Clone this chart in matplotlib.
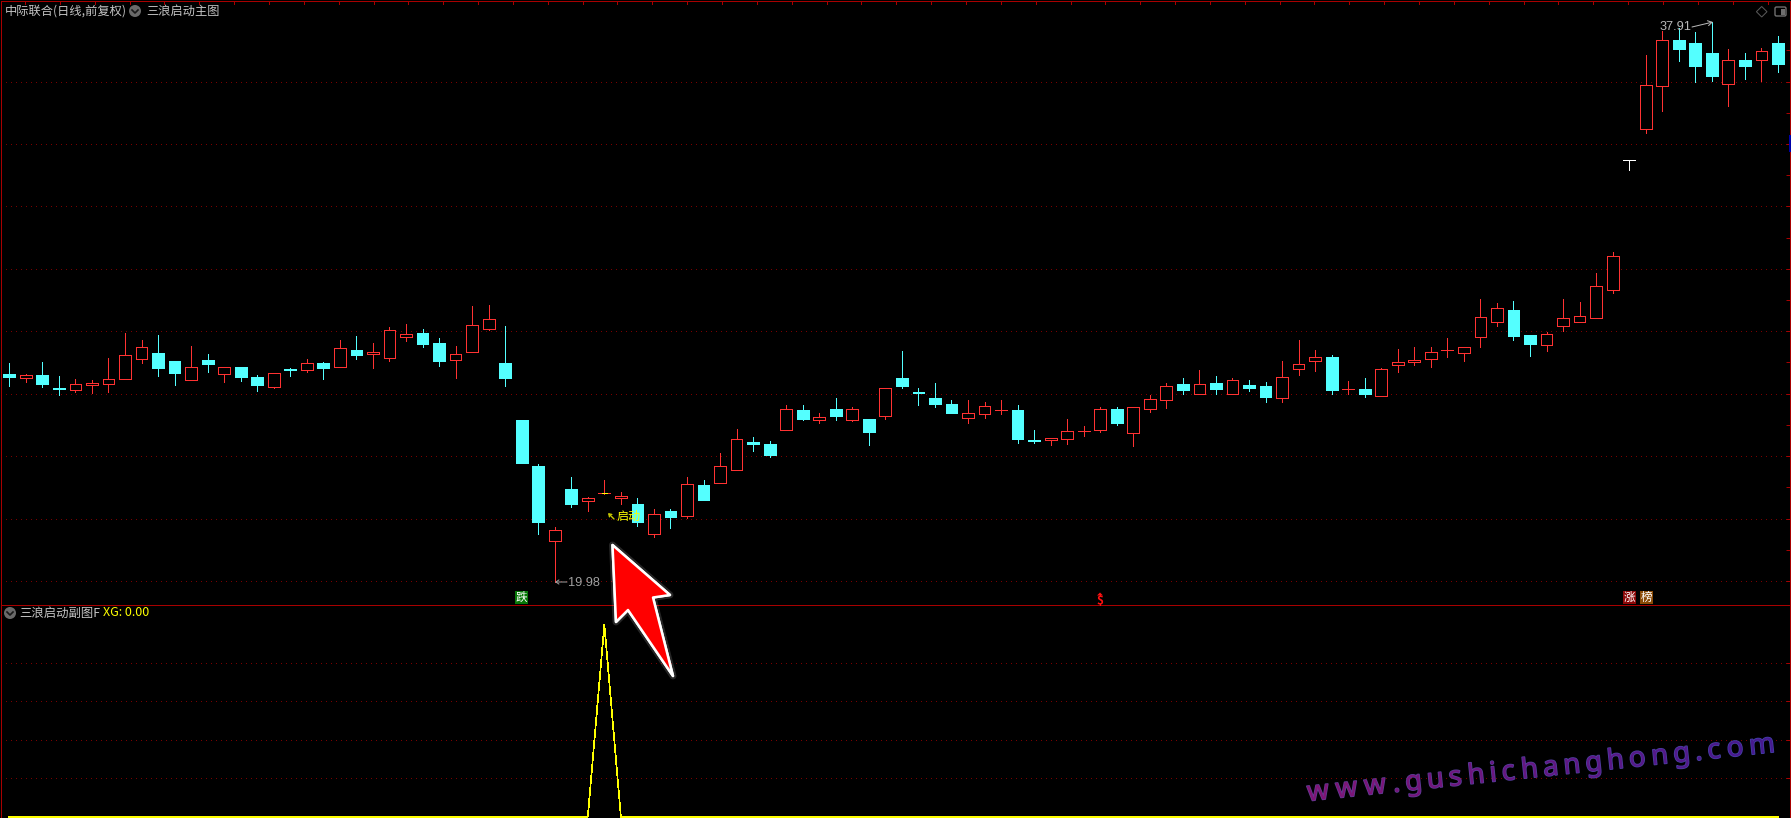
import numpy as np
import matplotlib as mpl
mpl.use("Agg")
import matplotlib.pyplot as plt
import matplotlib.patheffects as pe
from matplotlib.font_manager import FontProperties
from matplotlib.patches import Circle, FancyBboxPatch, Polygon, Rectangle
from matplotlib.textpath import TextPath

plt.rcParams['font.family'] = ['Noto Sans CJK SC', 'DejaVu Sans']

# Daily bars
opens = [26.64, 26.51, 26.60, 26.18, 26.13, 26.28, 26.32, 26.48, 27.12, 27.30,
         27.05, 26.45, 27.08, 26.64, 26.85, 26.53, 26.22, 26.79, 26.77, 26.98,
         26.86, 27.40, 27.28, 27.15, 27.82, 27.94, 27.62, 27.09, 27.34, 28.08,
         26.98, 25.16, 23.68, 21.29, 22.95, 22.57, 22.81, 22.67, 22.47, 21.52,
         22.24, 22.09, 23.08, 23.15, 23.57, 24.45, 24.39, 24.85, 25.48, 25.17,
         25.51, 25.17, 25.19, 25.30, 26.50, 26.04, 25.86, 25.67, 25.23, 25.36,
         25.47, 25.48, 24.51, 24.52, 24.55, 24.79, 24.85, 25.51, 24.75, 25.51,
         25.81, 26.31, 26.00, 26.34, 26.00, 26.28, 26.25, 25.87, 26.80, 27.06,
         27.18, 26.14, 26.15, 25.94, 26.93, 27.03, 27.12, 27.39, 27.31, 27.80,
         28.31, 28.68, 27.88, 27.56, 28.18, 28.31, 28.44, 29.33, 33.49, 34.49,
         35.87, 37.33, 37.23, 36.91, 35.93, 36.69, 36.70, 37.23]
closes = [26.53, 26.59, 26.31, 26.15, 26.30, 26.34, 26.46, 27.23, 27.51, 26.82,
          26.66, 26.84, 26.95, 26.84, 26.53, 26.28, 26.65, 26.76, 26.97, 26.82,
          27.45, 27.24, 27.35, 28.03, 27.90, 27.59, 27.05, 27.26, 28.19, 28.38,
          26.50, 23.78, 21.89, 21.62, 22.47, 22.66, 22.81, 22.71, 21.89, 22.14,
          22.05, 23.10, 22.60, 23.67, 24.54, 24.40, 24.04, 25.50, 25.19, 25.24,
          25.29, 25.50, 24.77, 26.17, 26.25, 26.01, 25.67, 25.38, 25.37, 25.60,
          25.48, 24.55, 24.49, 24.58, 24.79, 24.80, 25.50, 25.06, 25.56, 25.82,
          26.24, 26.12, 26.30, 26.15, 26.43, 26.18, 25.89, 26.52, 26.94, 27.17,
          26.12, 26.15, 25.99, 26.78, 27.00, 27.08, 27.32, 27.40, 27.49, 28.45,
          28.73, 27.85, 27.59, 27.90, 28.41, 28.48, 29.44, 30.40, 33.49, 35.88,
          37.32, 37.04, 36.50, 36.18, 36.68, 36.50, 36.97, 36.56]
highs = [26.98, 26.63, 27.01, 26.56, 26.47, 26.44, 27.14, 27.94, 27.72, 27.88,
         27.05, 27.53, 27.27, 26.84, 26.85, 26.60, 26.65, 26.82, 27.11, 27.01,
         27.72, 27.85, 27.62, 28.13, 28.23, 28.07, 27.78, 27.53, 28.81, 28.84,
         28.17, 25.16, 23.75, 21.73, 23.33, 22.69, 23.24, 22.85, 22.66, 22.31,
         22.31, 23.33, 23.24, 24.10, 24.87, 24.61, 24.49, 25.64, 25.64, 25.38,
         25.86, 25.56, 25.19, 26.17, 27.37, 26.18, 26.34, 25.80, 25.80, 25.73,
         25.80, 25.64, 24.84, 24.58, 25.19, 24.97, 25.56, 25.57, 25.56, 25.96,
         26.34, 26.50, 26.76, 26.57, 26.50, 26.44, 26.37, 27.05, 27.72, 27.40,
         27.24, 26.41, 26.50, 26.82, 27.43, 27.50, 27.50, 27.78, 27.49, 29.03,
         28.90, 28.97, 27.88, 27.98, 29.03, 28.94, 29.87, 30.54, 33.49, 36.85,
         37.63, 37.70, 37.58, 37.91, 37.04, 36.91, 37.07, 37.46]
lows = [26.24, 26.37, 26.21, 25.96, 26.05, 26.02, 26.05, 26.48, 26.98, 26.56,
        26.28, 26.45, 26.69, 26.37, 26.40, 26.08, 26.18, 26.56, 26.69, 26.47,
        26.86, 27.11, 26.82, 27.05, 27.69, 27.49, 26.88, 26.50, 27.34, 28.04,
        26.24, 23.78, 21.51, 19.98, 22.37, 22.24, 22.80, 22.47, 21.76, 21.41,
        21.70, 22.02, 22.60, 23.15, 23.57, 24.17, 23.97, 24.85, 25.16, 25.06,
        25.16, 25.13, 24.36, 25.19, 26.18, 25.64, 25.57, 25.38, 25.06, 25.22,
        25.35, 24.42, 24.42, 24.36, 24.39, 24.64, 24.77, 25.00, 24.32, 25.41,
        25.54, 25.99, 26.00, 25.99, 26.00, 26.09, 25.73, 25.73, 26.60, 26.73,
        25.99, 25.99, 25.89, 25.94, 26.70, 26.92, 26.86, 27.18, 27.05, 27.50,
        28.17, 27.72, 27.21, 27.37, 28.01, 28.31, 28.44, 29.23, 33.16, 34.35,
        35.05, 36.66, 35.98, 36.02, 35.21, 36.08, 36.02, 36.30]
white_bar = 98
signal_bar = 36
xg = [0] * 36 + [1] + [0] * 71

price_grid = [20, 22, 24, 26, 28, 30, 32, 34, 36]
price_minor = [21, 23, 25, 27, 29, 31, 33, 35, 37]
xg_grid = [0.2, 0.4, 0.6, 0.8]

title_stock = "中际联合(日线,前复权)"
title_main = "三浪启动主图"
title_sub = "三浪启动副图F"
xg_label = "XG: 0.00"
watermark = "www.gushichanghong.com"

RED = "#ff3232"
CYAN = "#54ffff"
BORDER = "#a80000"
GRID = "#7a0000"
W, H = 1791, 818
PX = 72.0 / 100  # one pixel in points


def add_axes_px(fig, x0, y0, x1, y1):
    a = fig.add_axes([x0 / W, 1 - y1 / H, (x1 - x0) / W, (y1 - y0) / H])
    a.set_facecolor("black")
    for s in a.spines.values():
        s.set_color(BORDER)
        s.set_linewidth(PX)
    a.spines["bottom"].set_visible(False)
    a.set_axisbelow(True)
    a.tick_params(which="both", left=False, bottom=False, right=True, direction="in",
                  length=3, width=PX, color=BORDER, labelleft=False, labelbottom=False)
    a.grid(True, axis="y", color=GRID, linewidth=PX, linestyle=(0, (1, 5)), antialiased=False)
    a.set_xlim(-0.502, 107.73)
    return a


def gray_button(a, x, y):
    a.add_patch(Circle((x, y), 6, facecolor="#6a6a6a", edgecolor="none"))
    a.plot([x - 3, x, x + 3], [y - 1, y + 2, y - 1], color="#1a1a1a", lw=1.2)


fig = plt.figure(figsize=(W / 100, H / 100), dpi=100, facecolor="black")

ax = add_axes_px(fig, 1, 1, 1790, 605)
ax.set_ylim(19.23, 38.58)
ax.set_yticks(price_grid)
ax.set_yticks(price_minor, minor=True)

x = np.arange(len(opens))
o = np.array(opens)
c = np.array(closes)
up = c >= o
colors = [RED if u else CYAN for u in up]
colors[white_bar] = "white"
faces = ["black" if u else CYAN for u in up]
faces[white_bar] = "white"

ax.vlines(x, lows, highs, colors=colors, linewidth=PX, antialiased=False, zorder=2)
ax.bar(x, np.abs(c - o), bottom=np.minimum(o, c), width=0.71, color=faces,
       edgecolor=colors, linewidth=PX, antialiased=False, zorder=3)
ax.hlines(closes[signal_bar], signal_bar - 0.17, signal_bar + 0.17, colors="#ffff00",
          linewidth=PX, antialiased=False, zorder=4)

ax2 = add_axes_px(fig, 1, 605, 1790, 818)
ax2.set_ylim(-0.0068, 1.102)
ax2.set_yticks(xg_grid)
ax2.plot(x, xg, color="#ffff00", linewidth=0.5, antialiased=False)

# Overlay in picture pixels for the labels and badges
ov = fig.add_axes([0, 0, 1, 1], zorder=10)
ov.set_xlim(0, W)
ov.set_ylim(H, 0)
ov.axis("off")

ov.vlines(np.arange(25, 1790, 34.85), 1, 4, colors=BORDER, linewidth=PX, antialiased=False)
ov.add_patch(Rectangle((1789, 135), 2, 17, facecolor="#0000a8", edgecolor="none"))

ov.text(5, 11, title_stock, color="#c4c4c4", fontsize=8.8, va="center")
gray_button(ov, 135, 11)
ov.text(146, 11, title_main, color="#c4c4c4", fontsize=8.8, va="center")
gray_button(ov, 10, 613)
ov.text(19, 613, title_sub, color="#c4c4c4", fontsize=8.9, va="center")
ov.text(103, 613, xg_label, color="#ffff00", fontsize=9, va="center")

ov.add_patch(Polygon([(1761.7, 6.5), (1767, 11.7), (1761.7, 17), (1756.4, 11.7)], fill=False,
                     edgecolor="#5a5a5a", linewidth=PX))
ov.add_patch(FancyBboxPatch((1775, 7), 11, 9, boxstyle="round,pad=0,rounding_size=1.5", fill=False,
                            edgecolor="#6e6e6e", linewidth=1.0))
ov.add_patch(Rectangle((1781, 8.5), 3.5, 6, facecolor="#6e6e6e", edgecolor="none"))

# High and low labels
ov.text(1660, 27, f"{max(highs):.2f}", color="#b8b8b8", fontsize=9.2, va="center",
        family=["Liberation Sans"])
ov.annotate("", xy=(1713, 22), xytext=(1692, 27),
            arrowprops=dict(arrowstyle="->,head_length=0.3,head_width=0.18", color="#b8b8b8",
                            linewidth=PX, shrinkA=0, shrinkB=0))
ov.annotate("", xy=(555, 582), xytext=(567, 582),
            arrowprops=dict(arrowstyle="->,head_length=0.22,head_width=0.15", color="#a0a0a0",
                            linewidth=PX, shrinkA=0, shrinkB=0))
ov.text(568, 582.5, f"{min(lows):.2f}", color="#a0a0a0", fontsize=9.2, va="center",
        family=["Liberation Sans"])

ov.annotate("", xy=(608, 513), xytext=(614, 519),
            arrowprops=dict(arrowstyle="->,head_length=0.18,head_width=0.12", color="#c8c800",
                            linewidth=1.0, shrinkA=0, shrinkB=0))
ov.text(617, 516, "启动", color="#ffff00", fontsize=8.7, va="center")

# Badges under the bars
badges = [("跌", 515, "#087808"), ("涨", 1623, "#8c0808"), ("榜", 1640, "#8a4a06")]
for label, bx, colour in badges:
    ov.add_patch(Rectangle((bx, 591), 13, 13, facecolor=colour, edgecolor="none"))
    ov.text(bx + 6.5, 597.5, label, color="white", fontsize=8.4, ha="center", va="center")
ov.text(1100, 600.5, "$", color="#ff1010", fontsize=8.5, ha="center", va="center", fontweight="bold")
ov.add_patch(Polygon([(1097, 595.5), (1100, 592.5), (1103, 595.5)], facecolor="#ff1010", edgecolor="none"))

# Big red arrow
arrow = Polygon([(612.5, 545), (670, 595), (653, 597.5), (673, 676), (628, 610), (616, 622)],
                closed=True, facecolor="#ff0000", edgecolor="white", linewidth=1.8, joinstyle="round")
arrow.set_path_effects([pe.withStroke(linewidth=5, foreground="white", alpha=0.15), pe.Normal()])
ov.add_patch(arrow)

# Watermark, one letter at a time so the colour can drift along it
font = FontProperties(family="Noto Sans")
wm_size = 20
adv = [TextPath((0, 0), ch, size=wm_size, prop=font).get_extents().x1 / PX for ch in watermark]
length = 468.0
gap = (length - sum(adv)) / (len(watermark) - 1)
angle = np.deg2rad(6.0)
start = np.array([1308.0, 801.0])
pos = 0.0
for i, ch in enumerate(watermark):
    t = i / (len(watermark) - 1)
    colour = (1 - t) * np.array([0.50, 0.08, 0.46]) + t * np.array([0.28, 0.10, 0.56])
    edge = (1 - t) * np.array([0.38, 0.24, 0.58]) + t * np.array([0.26, 0.26, 0.66])
    tx = start[0] + pos * np.cos(angle)
    ty = start[1] - pos * np.sin(angle)
    ov.text(tx, ty, ch, color=colour, fontproperties=font, fontsize=wm_size, rotation=6.0,
            rotation_mode="anchor", ha="left", va="baseline",
            path_effects=[pe.withStroke(linewidth=1.1, foreground=edge)])
    pos += adv[i] + gap

fig.savefig("out.png", dpi=100, facecolor="black")
